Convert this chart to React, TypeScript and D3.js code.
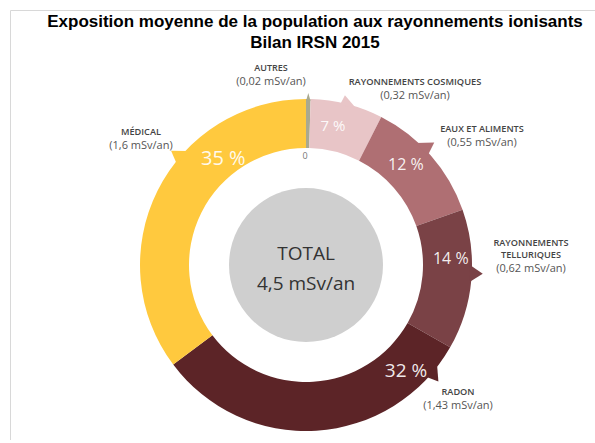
import React from "react";
import * as d3 from "d3";

const categories = ["AUTRES", "RAYONNEMENTS COSMIQUES", "EAUX ET ALIMENTS", "RAYONNEMENTS TELLURIQUES", "RADON", "MÉDICAL"];
const values = [0.02, 0.32, 0.55, 0.62, 1.43, 1.6];
const percentLabels = ["", "7 %", "12 %", "14 %", "32 %", "35 %"];
const valueLabels = ["(0,02 mSv/an)", "(0,32 mSv/an)", "(0,55 mSv/an)", "(0,62 mSv/an)", "(1,43 mSv/an)", "(1,6 mSv/an)"];
const colors = ["#A9A98F", "#E8C5C7", "#AF6F73", "#7A4246", "#5C2427", "#FFC93E"];
const titleLines = ["Exposition moyenne de la population aux rayonnements ionisants", "Bilan IRSN 2015"];
const totalLines = ["TOTAL", "4,5 mSv/an"];

// layout config
const nameLines = [["AUTRES"], ["RAYONNEMENTS COSMIQUES"], ["EAUX ET ALIMENTS"], ["RAYONNEMENTS", "TELLURIQUES"], ["RADON"], ["MÉDICAL"]];
const labelPos = [[271, 68], [415, 82], [482, 129], [531, 243], [458, 392], [141, 132]];
const nameSize = [9, 9.3, 9.2, 9.2, 9.2, 9.2];
const pctAngle = [0, 10.9, 44.7, 87.2, 136.4, 322.2];
const pctRadius = [0, 142, 142, 145, 145, 135];
const pctSize = [0, 15, 16, 16, 19, 20];
const pointerA = [0.8, 15, 45, 93, 130, 311];
const pointerDir = [0, -20, 63, 90, 150, 300];
const pointerLen = [7, 11, 13, 12, 12, 12];
const pointerHalf = [0.8, 3, 3, 3, 3, 3];

const W = 595, H = 443;
const cx = 306, cy = 265, R = 166, r0 = 117, rc = 77;

export default function App() {
  const pie = d3.pie<number>().sort(null).value((d) => d).startAngle(0).endAngle(2 * Math.PI);
  const arcs = pie(values);
  const arc = d3.arc<d3.PieArcDatum<number>>().innerRadius(r0).outerRadius(R);
  const rad = (deg: number) => (deg * Math.PI) / 180;
  const pt = (deg: number, rr: number) => [Math.sin(rad(deg)) * rr, -Math.cos(rad(deg)) * rr];
  const font = "'Open Sans', sans-serif";

  return (
    <svg width={W} height={H} style={{ position: "absolute", left: 0, top: 0, background: "#fff" }}>
      <path d={`M10.5,440 L10.5,10.5 L595,10.5`} fill="none" stroke="#d8d8d8" strokeWidth={1} />
      {titleLines.map((t, i) => (
        <text key={i} x={315} y={27 + i * 21} textAnchor="middle" fontFamily="'Liberation Sans', Arial, sans-serif" fontWeight="bold" fontSize={17} fill="#000">{t}</text>
      ))}
      <g transform={`translate(${cx},${cy})`}>
        {arcs.map((a, i) => (
          <path key={i} d={arc(a) || ""} fill={colors[i]} />
        ))}
        {arcs.map((a, i) => {
          const b1 = pt(pointerA[i] - pointerHalf[i], R - 2);
          const b2 = pt(pointerA[i] + pointerHalf[i], R - 2);
          const bc = pt(pointerA[i], R - 1);
          const d = pt(pointerDir[i], pointerLen[i]);
          const tip = [bc[0] + d[0], bc[1] + d[1]];
          return <path key={"p" + i} d={`M${b1[0]},${b1[1]}L${tip[0]},${tip[1]}L${b2[0]},${b2[1]}Z`} fill={colors[i]} />;
        })}
        <circle r={rc} fill="#CFCFCF" />
        {arcs.map((a, i) => {
          if (!percentLabels[i]) return null;
          const p = pt(pctAngle[i], pctRadius[i]);
          return (
            <text key={"t" + i} x={p[0]} y={p[1]} dy="0.35em" textAnchor="middle" fontFamily={font} fontSize={pctSize[i]} fill="#fff" fillOpacity={0.92}>{percentLabels[i]}</text>
          );
        })}
        <text x={-1} y={-109} dy="0.35em" textAnchor="middle" fontFamily={font} fontSize={9} fill="#777">0</text>
        {totalLines.map((t, i) => (
          <text key={"tot" + i} x={0} y={-12 + i * 30} dy="0.35em" textAnchor="middle" fontFamily={font} fontSize={19} fill="#333">{t}</text>
        ))}
      </g>
      {categories.map((c, i) => {
        const [lx, ly] = labelPos[i];
        const lines = nameLines[i];
        return (
          <g key={"l" + i}>
            {lines.map((ln, j) => (
              <text key={j} x={lx} y={ly + j * 12} dy="0.35em" textAnchor="middle" fontFamily={font} fontWeight={600} fontSize={nameSize[i]} fill="#444">{ln}</text>
            ))}
            <text x={lx} y={ly + lines.length * 12 + 1} dy="0.35em" textAnchor="middle" fontFamily={font} fontSize={11} fill="#555">{valueLabels[i]}</text>
          </g>
        );
      })}
    </svg>
  );
}
